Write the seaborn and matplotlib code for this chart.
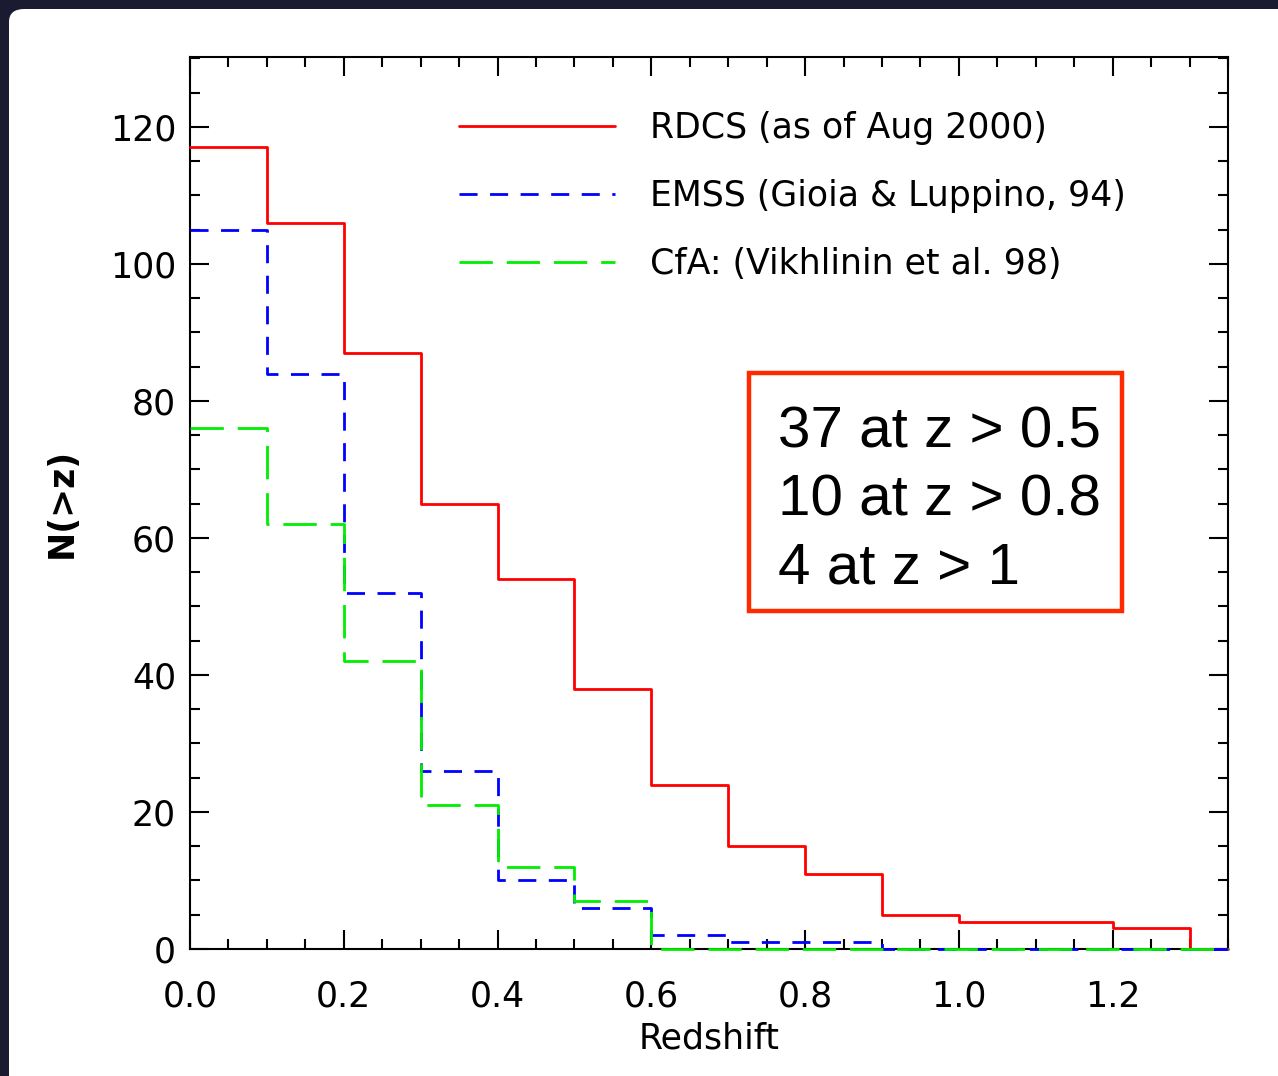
import numpy as np
import pandas as pd
import seaborn as sns
import matplotlib.pyplot as plt
from matplotlib.patches import Rectangle, FancyBboxPatch
from matplotlib.ticker import MultipleLocator

# Cumulative counts N(>z), one value per redshift bin starting at edges
edges = [0.0, 0.1, 0.2, 0.3, 0.4, 0.5, 0.6, 0.7, 0.8, 0.9, 1.0, 1.1, 1.2, 1.3, 1.35]
rdcs = [117, 106, 87, 65, 54, 38, 24, 15, 11, 5, 4, 4, 3, 0, 0]
emss = [105, 84, 52, 26, 10, 6, 2, 1, 1, 0, 0, 0, 0, 0, 0]
cfa = [76, 62, 42, 21, 12, 7, 0, 0, 0, 0, 0, 0, 0, 0, 0]

labels = ["RDCS (as of Aug 2000)", "EMSS (Gioia & Luppino, 94)", "CfA: (Vikhlinin et al. 98)"]
colores = {labels[0]: "#ff0000", labels[1]: "#0000ff", labels[2]: "#00ee00"}
guiones = {labels[0]: "", labels[1]: (6.5, 4.5), labels[2]: (12, 5)}

datos = pd.concat([
    pd.DataFrame({"z": edges, "N": vals, "muestra": lab})
    for vals, lab in zip([rdcs, emss, cfa], labels)
])

sns.set_style("white")
plt.rcParams["font.family"] = ["DejaVu Sans"]
plt.rcParams["text.color"] = "black"
plt.rcParams["axes.labelcolor"] = "black"

fig = plt.figure(figsize=(12.78, 10.76), dpi=100)
fig.patch.set_facecolor("#1a1b31")
# zona blanca de la diapositiva
fig.patches.append(FancyBboxPatch((9 / 1278, -0.05), 1.1, 1.05 - 9 / 1076,
                                  boxstyle="round,pad=0,rounding_size=0.012",
                                  transform=fig.transFigure, facecolor="white",
                                  edgecolor="none", zorder=-5))

ax = fig.add_axes([190 / 1278, 1 - 949 / 1076, 1038 / 1278, 892 / 1076])
ax.set_facecolor("white")
ax.set_zorder(1)

sns.lineplot(data=datos, x="z", y="N", hue="muestra", style="muestra",
             palette=colores, dashes=guiones, estimator=None, errorbar=None,
             drawstyle="steps-post", linewidth=2.0, ax=ax, clip_on=False, zorder=3)

ax.set_xlim(0, 1.35)
ax.set_ylim(0, 130.2)
ax.xaxis.set_major_locator(MultipleLocator(0.2))
ax.xaxis.set_minor_locator(MultipleLocator(0.05))
ax.yaxis.set_major_locator(MultipleLocator(20))
ax.yaxis.set_minor_locator(MultipleLocator(5))
ax.xaxis.set_major_formatter(plt.FuncFormatter(lambda v, p: f"{v:.1f}"))
ax.tick_params(which="both", direction="in", bottom=True, left=True, top=True, right=True,
               color="black", width=1.5, labelcolor="black")
ax.tick_params(which="major", length=14)
ax.tick_params(which="minor", length=7)
ax.tick_params(axis="x", which="major", pad=22, labelsize=25)
ax.tick_params(axis="y", which="major", pad=10, labelsize=25)
for s in ax.spines.values():
    s.set_color("black")
    s.set_linewidth(1.5)

ax.set_xlabel("Redshift", fontsize=25, labelpad=6)
ax.set_ylabel("N(>z)", fontsize=25, fontweight="bold", labelpad=22)

handles, labs = ax.get_legend_handles_labels()
ax.legend(handles, labs, loc="upper left", bbox_to_anchor=(0.229, 0.974), frameon=False,
          fontsize=25, handlelength=4.5, handletextpad=1.0, labelspacing=0.98)

# recuadro con el resumen
fig.patches.append(Rectangle((749 / 1278, 1 - 611 / 1076), 373 / 1278, 238 / 1076,
                             transform=fig.transFigure, facecolor="none",
                             edgecolor="#ff2a00", linewidth=3.2, zorder=5))
for texto, yb in zip(["37 at z > 0.5", "10 at z > 0.8", "4 at z > 1"], [447, 515, 583]):
    fig.text(778 / 1278, 1 - yb / 1076, texto, fontsize=42, family="Liberation Sans",
             va="baseline", ha="left", color="black", zorder=6)

fig.savefig("out.png", dpi=100, facecolor=fig.get_facecolor())
